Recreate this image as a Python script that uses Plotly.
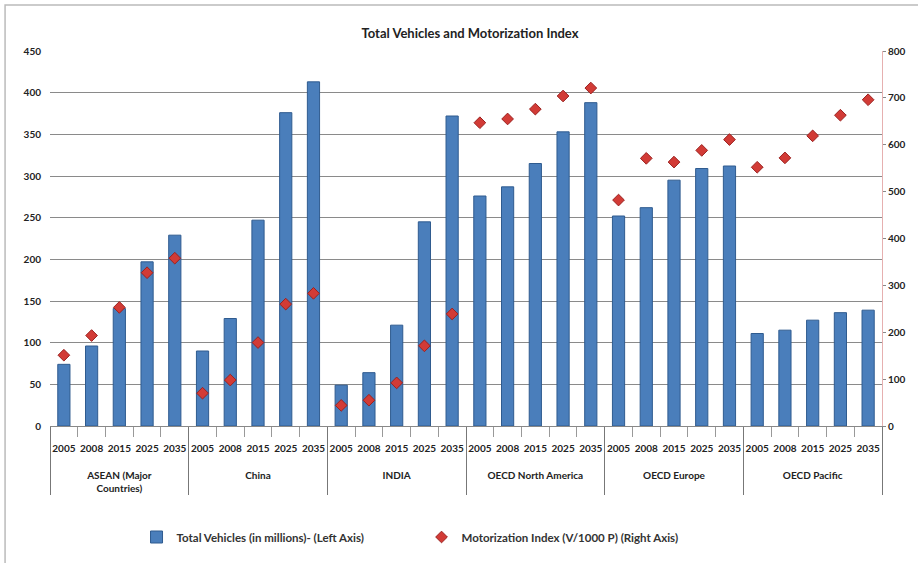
import plotly.graph_objects as go

regions = ["ASEAN (Major<br>Countries)", "China", "INDIA", "OECD North America", "OECD Europe", "OECD Pacific"]
years = ["2005", "2008", "2015", "2025", "2035"]

total_vehicles = {
    "ASEAN (Major<br>Countries)": [74, 96, 141, 197, 229],
    "China": [90, 129, 247, 376, 413],
    "INDIA": [49, 64, 121, 245, 372],
    "OECD North America": [276, 287, 315, 353, 388],
    "OECD Europe": [252, 262, 295, 309, 312],
    "OECD Pacific": [111, 115, 127, 136, 139],
}
motorization = {
    "ASEAN (Major<br>Countries)": [151, 193, 253, 327, 358],
    "China": [70, 98, 178, 260, 283],
    "INDIA": [44, 55, 92, 171, 239],
    "OECD North America": [647, 655, 676, 704, 721],
    "OECD Europe": [482, 571, 563, 588, 611],
    "OECD Pacific": [552, 572, 619, 663, 696],
}

xg, xy, vb, vm = [], [], [], []
for r in regions:
    for i, y in enumerate(years):
        xg.append("<br><br>" + r)
        xy.append("<br>" + y)
        vb.append(total_vehicles[r][i])
        vm.append(motorization[r][i])

font_family = "Lato, 'Open Sans', sans-serif"

fig = go.Figure()
fig.add_trace(go.Bar(
    x=[xg, xy], y=vb,
    name="Total Vehicles (in millions)- (Left Axis)",
    marker=dict(color="#4a7ebb", line=dict(color="#2f5b8f", width=1)),
))
fig.add_trace(go.Scatter(
    x=[xg, xy], y=vm, yaxis="y2", mode="markers",
    name="Motorization Index (V/1000 P) (Right Axis)",
    marker=dict(symbol="diamond", size=9, color="#d23b36", line=dict(color="#9b2220", width=1)),
))

n = len(xg)
fig.update_layout(
    width=918, height=563,
    paper_bgcolor="white", plot_bgcolor="white",
    font=dict(family=font_family, size=10, color="#222"),
    title=dict(text="<b>Total Vehicles and Motorization Index</b>", x=0.512, xanchor="center",
               y=0.941, yanchor="middle", font=dict(size=13, color="#222")),
    margin=dict(l=50, r=34, t=51, b=137),
    bargap=0.56,
    showlegend=True,
    legend=dict(orientation="h", x=0.104, xanchor="left", y=-0.296, yanchor="middle",
                font=dict(size=11.5, weight="bold", color="#333"), itemwidth=30,
                entrywidth=240, entrywidthmode="pixels", traceorder="normal"),
    xaxis=dict(type="multicategory", range=[-0.5, n - 0.5], showgrid=False, showline=True,
               linecolor="#888", ticks="outside", tickson="boundaries", tickcolor="#999",
               ticklen=10, tickangle=0, dividercolor="#777", dividerwidth=1,
               tickfont=dict(size=10, color="#222", weight="bold")),
    yaxis=dict(range=[0, 450], dtick=50, showgrid=True, gridcolor="#8a8a8a", gridwidth=1,
               zeroline=False, showline=False, ticks="", tickfont=dict(size=10, color="#222", weight="bold"),
               ticklabelstandoff=8),
    yaxis2=dict(range=[0, 800], dtick=100, overlaying="y", side="right", showgrid=False,
                zeroline=False, showline=True, linecolor="#e6b0b0", ticks="outside",
                ticklen=3, tickcolor="#888", tickfont=dict(size=10, color="#222", weight="bold")),
    shapes=[dict(type="rect", xref="paper", yref="paper", x0=-0.054, x1=1.1, y0=-0.5, y1=1.1227,
                 line=dict(color="#bbbbbb", width=1.5))],
)

fig.write_html("out.html", post_script="document.body.style.margin='0';",
               config={"displayModeBar": False})
